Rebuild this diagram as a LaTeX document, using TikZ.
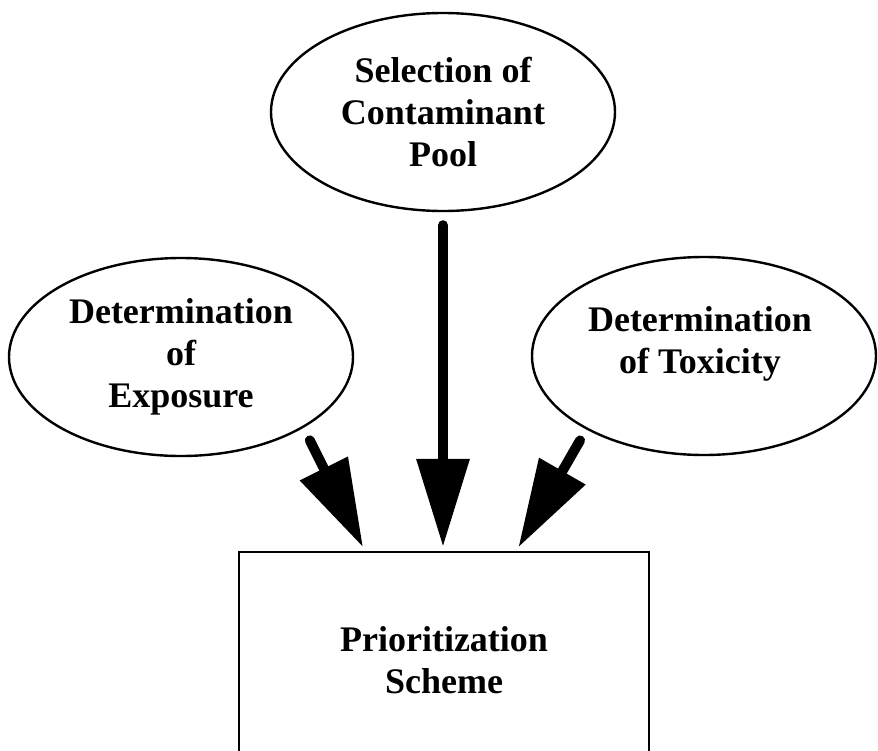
\documentclass[tikz,border=0pt]{standalone}
\usepackage{fontspec}
\setmainfont{Liberation Serif}
\usetikzlibrary{shapes.geometric, arrows.meta, calc}

\begin{document}
\begin{tikzpicture}[x=0.5pt, y=-0.5pt,
    oval/.style={draw, ellipse, line width=1.2pt, minimum width=172pt, minimum height=99pt, inner sep=0pt},
    txt/.style={align=center, font=\fontsize{18}{21}\selectfont\bfseries},
    box/.style={draw, rectangle, line width=1.2pt, minimum width=205pt, minimum height=108pt},
    fat/.style={line width=5pt, line cap=round, -{Triangle[length=44pt, width=25.5pt]}}]
                    \useasboundingbox (0,0) rectangle (878,750);

                    \node[oval, txt] (s) at (443,112) {Selection of\\Contaminant\\Pool};
                    \node[oval, txt] (e) at (181,357) {Determination\\of\\Exposure};
                    \node[oval] (t) at (704,356) {};
                    \node[txt] (tl) at (700,344) {Determination\\of Toxicity};
                    \node[box, txt] (p) at (444,660) {Prioritization\\Scheme};

                    \draw[fat, shorten <=6.5pt, shorten >=2pt] (s.south) -- (s.south |- p.north);
                    \draw[fat, shorten <=7pt, shorten >=2pt] (e.-30) -- ($(p.north)!0.384!(p.north west)$);
                    \draw[fat, shorten <=6.3pt, shorten >=2pt] (t.-148) -- ($(p.north)!0.351!(p.north east)$);
                \end{tikzpicture}
\end{document}
